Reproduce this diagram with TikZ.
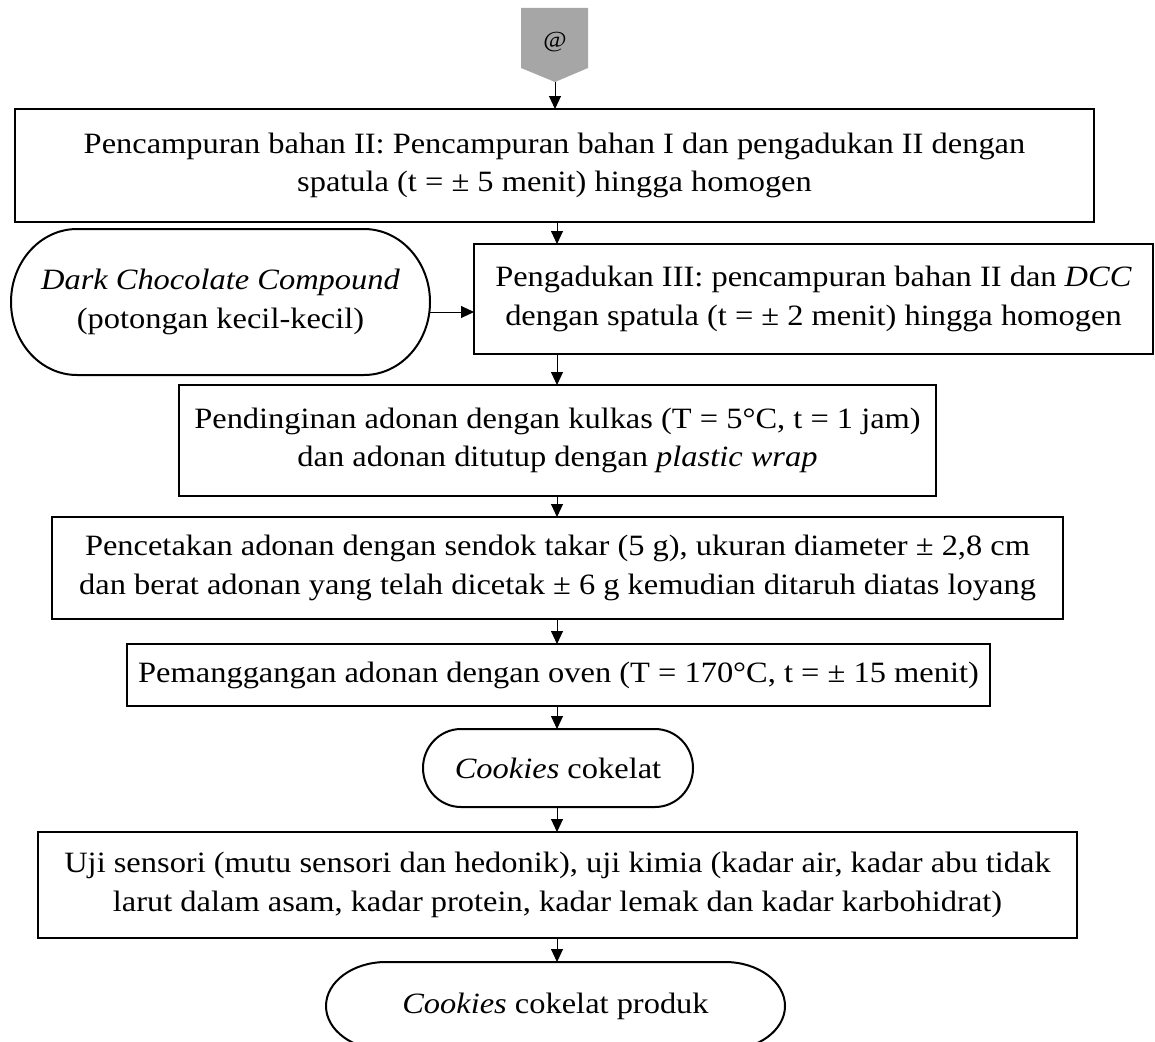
\documentclass[tikz,border=0pt]{standalone}
\usepackage{fontspec}
\setmainfont{Liberation Serif}[FakeStretch=1.1]
\usetikzlibrary{arrows.meta}
\definecolor{pentgray}{HTML}{A6A6A6}
\tikzset{
  txt/.style={font=\fontsize{29.5}{38.5}\selectfont},
  box/.style={draw, shape=rectangle, line width=2.4pt, inner sep=0pt, outer sep=0pt, align=center, txt},
  termnode/.style={shape=rectangle, inner sep=0pt, outer sep=0pt, align=center, txt},
  termline/.style={line width=2pt},
  flow/.style={-{Triangle[length=13pt,width=12pt]}, line width=1pt},
}
\newcommand\termshape[3]{%
  \draw[termline] ([xshift=#2]#1.north west) -- ([xshift=-#2]#1.north east)
    arc[start angle=90,end angle=-90,x radius=#2,y radius=#3]
    -- ([xshift=#2]#1.south west)
    arc[start angle=270,end angle=90,x radius=#2,y radius=#3] -- cycle;}
\begin{document}
\begin{tikzpicture}[x=1pt,y=-1pt]
\useasboundingbox (0,0) rectangle (1155,1041);
% off-page connector
\fill[pentgray] (521,8) -- (588,8) -- (588,68) -- (555,82) -- (521,68) -- cycle;
\node[inner sep=0pt, font=\fontsize{23}{26}\selectfont] (atn) at (555,42) {@};
\coordinate (pb) at (555,82);
\coordinate (ax) at (557,0);

\node[box, minimum width=1079pt, minimum height=113pt] (b1) at (554.5,165.5)
  {Pencampuran bahan II: Pencampuran bahan I dan pengadukan II dengan\\spatula (t = ± 5 menit) hingga homogen};
\node[termnode, minimum width=419pt, minimum height=146pt] (dcc) at (220.5,302)
  {\textit{Dark Chocolate Compound}\\(potongan kecil-kecil)};
\termshape{dcc}{66pt}{73pt}
\coordinate (dccr) at ([yshift=-10pt]dcc.east);
\node[box, minimum width=679pt, minimum height=110pt] (b3) at (813.5,299)
  {Pengadukan III: pencampuran bahan II dan \textit{DCC}\\dengan spatula (t = ± 2 menit) hingga homogen};
\node[box, minimum width=757pt, minimum height=111pt] (b4) at (557.5,440.5)
  {Pendinginan adonan dengan kulkas (T = 5°C, t = 1 jam)\\dan adonan ditutup dengan \textit{plastic wrap}};
\node[box, minimum width=1011pt, minimum height=102pt] (b5) at (557.5,568)
  {Pencetakan adonan dengan sendok takar (5 g), ukuran diameter ± 2,8 cm\\dan berat adonan yang telah dicetak ± 6 g kemudian ditaruh diatas loyang};
\node[box, minimum width=863pt, minimum height=62pt] (b6) at (558.5,675)
  {Pemanggangan adonan dengan oven (T = 170°C, t = ± 15 menit)};
\node[termnode, minimum width=270pt, minimum height=78pt] (ck) at (558,768)
  {\textit{Cookies} cokelat};
\termshape{ck}{38pt}{39pt}
\node[box, minimum width=1039pt, minimum height=106pt] (b7) at (557.5,885)
  {Uji sensori (mutu sensori dan hedonik), uji kimia (kadar air, kadar abu tidak\\larut dalam asam, kadar protein, kadar lemak dan kadar karbohidrat)};
\node[termnode, minimum width=459pt, minimum height=88pt] (fin) at (555.5,1006)
  {\textit{Cookies} cokelat produk};
\termshape{fin}{60pt}{44pt}

% connectors
\draw[flow] (pb) -- (pb |- b1.north);
\draw[flow] (b1.south -| ax) -- (b3.north -| ax);
\draw[flow] (dccr) -- (b3.west |- dccr);
\draw[flow] (b3.south -| ax) -- (b4.north -| ax);
\draw[flow] (b4.south -| ax) -- (b5.north -| ax);
\draw[flow] (b5.south -| ax) -- (b6.north -| ax);
\draw[flow] (b6.south -| ax) -- (ck.north -| ax);
\draw[flow] (ck.south -| ax) -- (b7.north -| ax);
\draw[flow] (b7.south -| ax) -- (fin.north -| ax);
\end{tikzpicture}
\end{document}
